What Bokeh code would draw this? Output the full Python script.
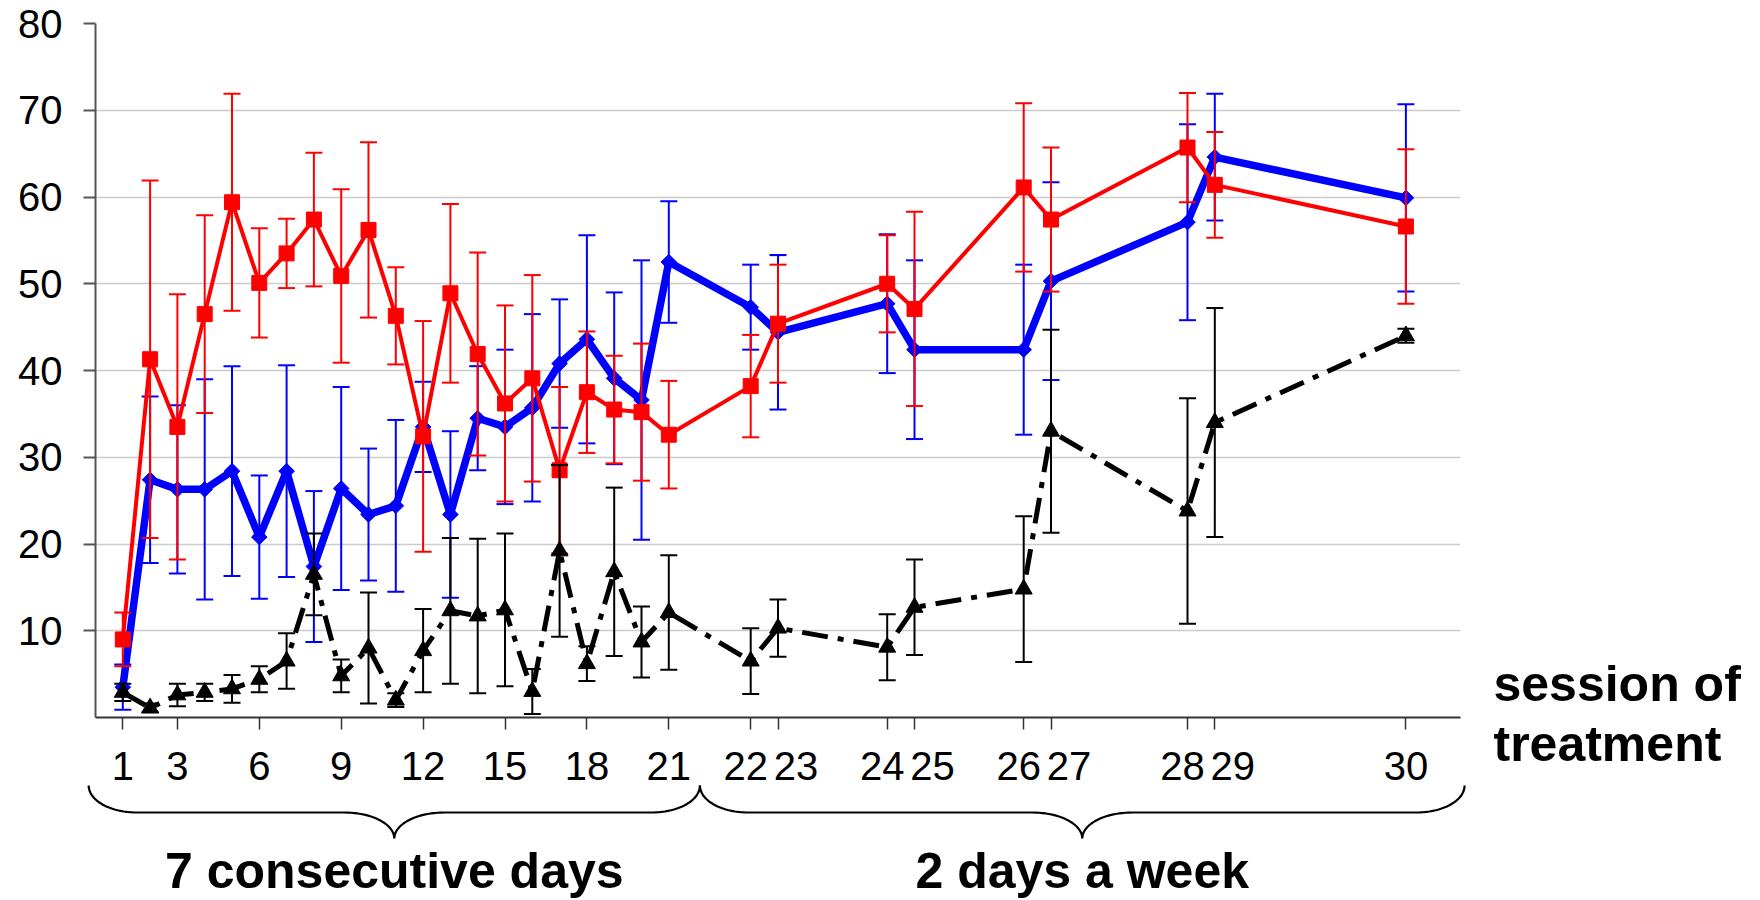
import numpy as np
from bokeh.plotting import figure
from bokeh.models import Range1d, FixedTicker, ColumnDataSource, CustomJSTickFormatter
from bokeh.core.properties import value
from bokeh.embed import file_html
from bokeh.resources import INLINE

# ---------------- data ----------------
sessions = list(range(1, 31))
# position of each session on the time axis (day of treatment)
session_day = list(range(1, 22)) + [24, 25, 29, 30, 34, 35, 40, 41, 48]

red_mean = [9.0, 41.3, 33.5, 46.5, 59.4, 50.1, 53.5, 57.4, 50.9, 56.2,
            46.3, 32.4, 48.9, 41.9, 36.2, 39.1, 28.5, 37.5, 35.5, 35.2,
            32.6, 38.2, 45.4, 50.0, 47.1, 61.1, 57.4, 65.7, 61.4, 56.6]
red_err = [3.1, 20.6, 15.3, 11.4, 12.5, 6.3, 4.0, 7.7, 10.0, 10.1,
           5.6, 13.3, 10.3, 11.7, 11.3, 11.9, 9.6, 7.0, 6.2, 7.9,
           6.2, 5.9, 6.8, 5.6, 11.2, 9.7, 8.3, 6.3, 6.1, 8.9]

blue_mean = [3.5, 27.4, 26.3, 26.3, 28.4, 20.8, 28.4, 17.4, 26.4, 23.4,
             24.4, 33.5, 23.4, 34.5, 33.5, 35.7, 40.8, 43.6, 39.1, 36.6,
             52.5, 47.3, 44.4, 47.7, 42.4, 42.4, 50.3, 57.1, 64.6, 59.9]
blue_err = [2.6, 9.6, 9.7, 12.7, 12.1, 7.1, 12.2, 8.7, 11.7, 7.6,
            9.9, 5.2, 9.6, 6.0, 8.9, 10.8, 7.4, 12.0, 9.9, 16.1,
            7.0, 4.9, 8.9, 8.0, 10.3, 9.8, 11.4, 11.3, 7.3, 10.8]

black_mean = [2.9, 1.1, 2.6, 2.9, 3.3, 4.4, 6.5, 16.5, 4.8, 8.0,
              2.0, 7.7, 12.3, 11.7, 12.4, 3.0, 19.2, 6.2, 16.8, 8.7,
              12.1, 6.5, 10.3, 8.1, 12.7, 14.8, 33.0, 23.8, 34.0, 44.0]
black_err = [1.0, 0.5, 1.3, 1.0, 1.6, 1.5, 3.2, 4.7, 1.9, 6.4,
             0.8, 4.8, 8.4, 8.9, 8.8, 2.6, 9.9, 2.0, 9.7, 4.1,
             6.6, 3.8, 3.3, 3.8, 5.5, 8.4, 11.7, 13.0, 13.2, 0.8]

tick_sessions = [1, 3, 6, 9, 12, 15, 18, 21, 22, 23, 24, 25, 26, 27, 28, 29, 30]
y_ticks = [10, 20, 30, 40, 50, 60, 70, 80]

axis_title = ["session of", "treatment"]
group_labels = ["7 consecutive days", "2 days a week"]
group_sessions = [(1, 21), (22, 30)]

# ---------------- layout ----------------
W, H = 1760, 900
BL, BR, BT, BB = 95, 300, 23, 183
FRAME_W = W - BL - BR
FRAME_H = H - BT - BB
X0, X1 = 0, 50
Y0, Y1 = 0, 80
UX = (X1 - X0) / FRAME_W   # data units per pixel
UY = (Y1 - Y0) / FRAME_H

TICK_FONT = "Liberation Sans"
BOLD_FONT = "Liberation Sans"

p = figure(width=W, height=H, x_range=Range1d(X0, X1), y_range=Range1d(Y0, Y1),
           output_backend="svg", toolbar_location=None,
           min_border_left=BL, min_border_right=BR, min_border_top=BT, min_border_bottom=BB)
p.outline_line_color = None
p.background_fill_color = "white"
p.border_fill_color = "white"

# axes
p.yaxis.ticker = FixedTicker(ticks=y_ticks)
p.yaxis.major_label_text_font = TICK_FONT
p.yaxis.major_label_text_font_size = "40px"
p.yaxis.major_label_text_color = "black"
p.yaxis.major_tick_out = 12
p.yaxis.major_tick_in = 0
p.yaxis.minor_tick_line_color = None
p.yaxis.axis_line_color = "#555555"
p.yaxis.axis_line_width = 2
p.yaxis.major_tick_line_color = "#555555"
p.yaxis.major_tick_line_width = 2
p.yaxis.major_label_standoff = 21

tick_days = [session_day[s - 1] for s in tick_sessions]
p.xaxis.ticker = FixedTicker(ticks=tick_days)
p.xaxis.formatter = CustomJSTickFormatter(code="return ''")
p.xaxis.major_tick_out = 12
p.xaxis.major_tick_in = 0
p.xaxis.minor_tick_line_color = None
p.xaxis.axis_line_color = "#333333"
p.xaxis.axis_line_width = 2
p.xaxis.major_tick_line_color = "#333333"
p.xaxis.major_tick_line_width = 1.5

p.xgrid.visible = False
p.ygrid.ticker = FixedTicker(ticks=y_ticks)
p.ygrid.grid_line_color = "#cccccc"
p.ygrid.grid_line_width = 1.5


def add_series(mean, err, color, line_width, marker, size, angle=0.0, dash="solid"):
    m = np.array(mean)
    e = np.array(err)
    src = ColumnDataSource(dict(x=session_day, y=m, lo=m - e, hi=m + e))
    p.segment(x0="x", y0="lo", x1="x", y1="hi", source=src, line_color=color, line_width=2)
    p.scatter(x="x", y="hi", source=src, marker="dash", size=17, line_color=color, line_width=2)
    p.scatter(x="x", y="lo", source=src, marker="dash", size=17, line_color=color, line_width=2)
    p.line(x="x", y="y", source=src, line_color=color, line_width=line_width, line_dash=dash)
    p.scatter(x="x", y="y", source=src, marker=marker, size=size, angle=angle,
              fill_color=color, line_color=color)


add_series(blue_mean, blue_err, "#0000ff", 7.5, "square", 11, angle=np.pi / 4)
add_series(red_mean, red_err, "#ff0000", 4, "square", 15)
add_series(black_mean, black_err, "#000000", 5, "triangle", 17, dash="26 10 6 10")

# x tick labels (drawn as text so that crowded labels can be nudged apart)
label_dx = [18 if s in (23, 25, 27, 29) else (-5 if s in (22, 24, 26, 28) else 0) for s in tick_sessions]
lab = ColumnDataSource(dict(x=tick_days, text=[str(s) for s in tick_sessions], dx=label_dx))
p.text(x="x", y=0, text="text", x_offset="dx", y_offset=48, source=lab,
       text_font=value(TICK_FONT), text_font_size="40px", text_color="black",
       text_align="center", text_baseline="middle", level="overlay")

# axis title at the right
title_x = X1 + 33 * UX
for line, dy in zip(axis_title, [-34, 26]):
    p.text(x=[title_x], y=[0], text=[line], y_offset=dy,
           text_font=value(BOLD_FONT), text_font_style="bold", text_font_size="50px",
           text_align="left", text_baseline="middle", level="overlay")


def brace(x_start, x_end, x_tip, top=68, mid=95, tip=121, a_end=48, a_tip=50):
    t = np.linspace(0, np.pi / 2, 24)
    xs, ys = [], []
    # left end
    xs += list(x_start + a_end * UX * (1 - np.cos(t)))
    ys += list(top + (mid - top) * np.sin(t))
    # left half towards the tip
    xs += list(x_tip - a_tip * UX + a_tip * UX * np.sin(t))
    ys += list(mid + (tip - mid) * (1 - np.cos(t)))
    # right half from the tip
    xs += list(x_tip + a_tip * UX * (1 - np.cos(t)))
    ys += list(tip - (tip - mid) * np.sin(t))
    # right end
    xs += list(x_end - a_end * UX + a_end * UX * np.sin(t))
    ys += list(mid - (mid - top) * (1 - np.cos(t)))
    return xs, [-v * UY for v in ys]


gap = 22.14
bounds = [(-0.25, gap), (gap, 50.15)]
for (s0, s1), (b0, b1), label in zip(group_sessions, bounds, group_labels):
    tip_x = (b0 + b1) / 2
    bx, by = brace(b0, b1, tip_x)
    p.line(bx, by, line_color="black", line_width=2.2, level="overlay")
    p.text(x=[tip_x], y=[0], text=[label], y_offset=153,
           text_font=value(BOLD_FONT), text_font_style="bold", text_font_size="50px",
           text_align="center", text_baseline="middle", level="overlay")

open("out.html", "w").write(file_html(p, INLINE))
